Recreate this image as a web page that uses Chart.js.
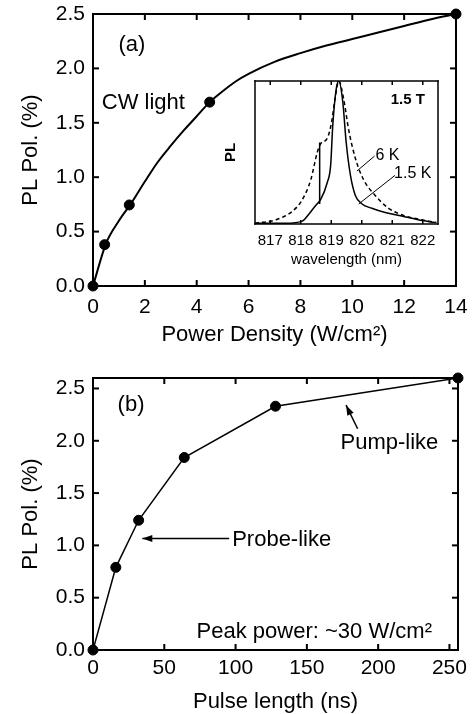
<!DOCTYPE html>
<html>
<head>
<meta charset="utf-8">
<script src="https://cdn.jsdelivr.net/npm/chart.js@4.4.1/dist/chart.umd.min.js"></script>
<style>
  html, body { margin: 0; padding: 0; background: #fff; }
  #wrap { position: relative; width: 473px; height: 714px; }
  canvas { position: absolute; }
</style>
</head>
<body>
<div id="wrap">
  <canvas id="cwChart" width="473" height="357" style="left:0;top:0"></canvas>
  <canvas id="pulseChart" width="473" height="357" style="left:0;top:357px"></canvas>
  <canvas id="specChart" width="235" height="200" style="left:215px;top:72px"></canvas>
</div>
<script>
// (a) CW light: measured points and the fitted curve
const cwPower = [0, 0.45, 1.4, 4.5, 14];
const cwPol = [0, 0.38, 0.745, 1.69, 2.5];
const cwFitPower = [0, 0.5, 1, 1.5, 2, 2.5, 3, 3.5, 4, 4.5, 5, 5.5, 6, 7, 8, 9, 10, 11, 12, 13, 14];
const cwFitPol = [0, 0.39, 0.60, 0.77, 0.96, 1.14, 1.29, 1.43, 1.56, 1.69, 1.79, 1.88, 1.95, 2.06, 2.14, 2.21, 2.27, 2.33, 2.39, 2.45, 2.5];

// (b) pulsed excitation
const pulseLength = [0, 16, 32, 64, 128, 256];
const pulsePol = [0, 0.79, 1.24, 1.84, 2.33, 2.6];

// inset: PL spectra at 1.5 T
const wl6K = [816.5, 817.19, 817.73, 818.05, 818.33, 818.54, 818.65, 818.87, 819.01, 819.12, 819.25, 819.41, 819.57, 819.79, 820.06, 820.44, 820.88, 821.42, 821.96, 822.45];
const pl6K = [0.005, 0.03, 0.09, 0.17, 0.31, 0.50, 0.56, 0.60, 0.71, 0.87, 1.0, 0.87, 0.66, 0.46, 0.31, 0.20, 0.11, 0.056, 0.03, 0.01];
const wl15K = [816.5, 817.5, 818.05, 818.27, 818.49, 818.65, 818.87, 818.98, 819.05, 819.16, 819.25, 819.38, 819.49, 819.63, 819.79, 820.01, 820.33, 820.77, 821.31, 821.85, 822.4];
const pl15K = [0.005, 0.005, 0.02, 0.07, 0.13, 0.17, 0.29, 0.41, 0.69, 0.94, 1.0, 0.85, 0.57, 0.34, 0.20, 0.14, 0.11, 0.08, 0.056, 0.03, 0.01];
const stepWl = [818.62, 818.62];
const stepPl = [0.14, 0.57];
const wlTicks = [817, 818, 819, 820, 821, 822];

Chart.defaults.font.family = "'Liberation Sans', Arial, Helvetica, sans-serif";
Chart.defaults.color = '#000';

const FONT = "'Liberation Sans', Arial, sans-serif";
const pts = (xs, ys) => xs.map((x, i) => ({ x: x, y: ys[i] }));

// box around the plot with inward tick marks, plus text and arrows in data coordinates
function decor(cfg) {
  return {
    id: 'decor',
    afterDraw(chart) {
      const { ctx, scales: { x, y } } = chart;
      const left = x.left, right = x.right, top = y.top, bottom = y.bottom;
      const w = cfg.frame, h = w / 2, len = cfg.len;
      ctx.save();
      ctx.fillStyle = '#000';
      ctx.strokeStyle = '#000';
      // frame drawn as filled strips
      ctx.fillRect(left - h, top - h, right - left + w, w);
      ctx.fillRect(left - h, bottom - h, right - left + w, w);
      ctx.fillRect(left - h, top - h, w, bottom - top + w);
      ctx.fillRect(right - h, top - h, w, bottom - top + w);
      x.ticks.forEach(t => {
        const px = x.getPixelForValue(t.value);
        ctx.fillRect(px - h, bottom - len, w, len);
        ctx.fillRect(px - h, top, w, len);
      });
      if (cfg.sides) {
        y.ticks.forEach(t => {
          const py = y.getPixelForValue(t.value);
          ctx.fillRect(left, py - h, len, w);
          ctx.fillRect(right - len, py - h, len, w);
        });
      }

      (cfg.lines || []).forEach(l => {
        const x1 = x.getPixelForValue(l.from[0]), y1 = y.getPixelForValue(l.from[1]);
        const x2 = x.getPixelForValue(l.to[0]), y2 = y.getPixelForValue(l.to[1]);
        ctx.lineWidth = l.width || 1;
        ctx.beginPath();
        ctx.moveTo(x1, y1);
        ctx.lineTo(x2, y2);
        ctx.stroke();
        if (l.head) {
          const ang = Math.atan2(y2 - y1, x2 - x1);
          const hl = 10, hw = 3.5;
          ctx.beginPath();
          ctx.moveTo(x2, y2);
          ctx.lineTo(x2 - hl * Math.cos(ang) + hw * Math.sin(ang), y2 - hl * Math.sin(ang) - hw * Math.cos(ang));
          ctx.lineTo(x2 - hl * Math.cos(ang) - hw * Math.sin(ang), y2 - hl * Math.sin(ang) + hw * Math.cos(ang));
          ctx.closePath();
          ctx.fill();
        }
      });
      (cfg.texts || []).forEach(t => {
        ctx.font = t.font;
        ctx.textAlign = t.align || 'left';
        ctx.textBaseline = 'middle';
        ctx.fillText(t.text, x.getPixelForValue(t.x), y.getPixelForValue(t.y));
      });
      ctx.restore();
    }
  };
}

function fixBox(w, h) {
  return function (s) {
    if (w !== null) s.width = w;
    if (h !== null) s.height = h;
    s.paddingLeft = 0; s.paddingRight = 0; s.paddingTop = 0; s.paddingBottom = 0;
  };
}

function mainOptions(cfg) {
  return {
    responsive: false,
    animation: false,
    devicePixelRatio: 1,
    layout: { padding: { top: cfg.padTop, right: cfg.padRight, left: 0, bottom: 0 } },
    plugins: { legend: { display: false }, tooltip: { enabled: false } },
    scales: {
      x: {
        type: 'linear', min: cfg.xMin, max: cfg.xMax,
        grid: { display: false, drawTicks: false },
        border: { display: false },
        ticks: { stepSize: cfg.xStep, includeBounds: false, autoSkip: false, padding: cfg.xTickPad, font: { size: 21 }, maxRotation: 0 },
        title: { display: true, text: cfg.xTitle, font: { size: 22, lineHeight: 1 }, padding: { top: 0, bottom: cfg.xTitlePad } },
        afterFit: fixBox(null, cfg.xHeight)
      },
      y: {
        type: 'linear', min: 0, max: cfg.yMax,
        grid: { display: false, drawTicks: false },
        border: { display: false },
        ticks: { stepSize: 0.5, includeBounds: false, padding: 8, font: { size: 21 }, callback: v => v.toFixed(1) },
        title: { display: true, text: 'PL Pol. (%)', font: { size: 22, lineHeight: 1 }, padding: { top: 20, bottom: 0 } },
        afterFit: fixBox(93, null)
      }
    }
  };
}

new Chart(document.getElementById('cwChart'), {
  type: 'scatter',
  data: {
    datasets: [
      {
        data: pts(cwFitPower, cwFitPol), showLine: true, pointRadius: 0,
        borderColor: '#000', borderWidth: 2, cubicInterpolationMode: 'monotone'
      },
      {
        data: pts(cwPower, cwPol), showLine: false, pointRadius: 5,
        backgroundColor: '#000', borderColor: '#000', clip: false
      }
    ]
  },
  options: mainOptions({
    padTop: 14, padRight: 17, xMin: 0, xMax: 14, xStep: 2, yMax: 2.5,
    xTickPad: 9, xTitle: 'Power Density (W/cm²)', xTitlePad: 11, xHeight: 71
  }),
  plugins: [decor({
    frame: 2, len: 6, sides: true,
    texts: [
      { text: '(a)', x: 1.5, y: 2.215, align: 'center', font: '22px ' + FONT },
      { text: 'CW light', x: 0.34, y: 1.68, align: 'left', font: '22px ' + FONT }
    ]
  })]
});

new Chart(document.getElementById('pulseChart'), {
  type: 'scatter',
  data: {
    datasets: [
      {
        data: pts(pulseLength, pulsePol), showLine: true, pointRadius: 0,
        borderColor: '#000', borderWidth: 1.5, tension: 0
      },
      {
        data: pts(pulseLength, pulsePol), showLine: false, pointRadius: 5,
        backgroundColor: '#000', borderColor: '#000', clip: false
      }
    ]
  },
  options: mainOptions({
    padTop: 21, padRight: 15, xMin: 0, xMax: 256, xStep: 50, yMax: 2.6,
    xTickPad: 6, xTitle: 'Pulse length (ns)', xTitlePad: 1, xHeight: 64
  }),
  plugins: [decor({
    frame: 2, len: 6, sides: true,
    texts: [
      { text: '(b)', x: 26.7, y: 2.34, align: 'center', font: '22px ' + FONT },
      { text: 'Pump-like', x: 207.9, y: 1.975, align: 'center', font: '22px ' + FONT },
      { text: 'Probe-like', x: 97.6, y: 1.05, align: 'left', font: '22px ' + FONT },
      { text: 'Peak power: ~30 W/cm²', x: 155.2, y: 0.175, align: 'center', font: '22px ' + FONT }
    ],
    lines: [
      { from: [185.6, 2.115], to: [177.5, 2.34], head: true, width: 1.5 },
      { from: [95.5, 1.066], to: [34.6, 1.066], head: true, width: 1.5 }
    ]
  })]
});

new Chart(document.getElementById('specChart'), {
  type: 'scatter',
  data: {
    datasets: [
      {
        data: pts(wl6K, pl6K), showLine: true, pointRadius: 0,
        borderColor: '#000', borderWidth: 1.5, borderDash: [4, 3], cubicInterpolationMode: 'monotone'
      },
      {
        data: pts(wl15K, pl15K), showLine: true, pointRadius: 0,
        borderColor: '#000', borderWidth: 1.5, cubicInterpolationMode: 'monotone'
      },
      {
        data: pts(stepWl, stepPl), showLine: true, pointRadius: 0,
        borderColor: '#000', borderWidth: 1.5
      }
    ]
  },
  options: {
    responsive: false,
    animation: false,
    devicePixelRatio: 1,
    layout: { padding: { top: 9, right: 12, left: 0, bottom: 0 } },
    plugins: { legend: { display: false }, tooltip: { enabled: false } },
    scales: {
      x: {
        type: 'linear', min: 816.5, max: 822.5,
        afterBuildTicks: s => { s.ticks = wlTicks.map(v => ({ value: v })); },
        grid: { display: false, drawTicks: false },
        border: { display: false },
        ticks: { autoSkip: false, padding: 8, font: { size: 15 }, maxRotation: 0, callback: v => String(v) },
        title: { display: true, text: 'wavelength (nm)', font: { size: 15, lineHeight: 1 }, padding: { top: 0, bottom: 5 } },
        afterFit: fixBox(null, 48)
      },
      y: {
        type: 'linear', min: 0, max: 1.0,
        grid: { display: false, drawTicks: false },
        border: { display: false },
        ticks: { display: false },
        title: { display: true, text: 'PL', font: { size: 15, weight: 'bold', lineHeight: 1 }, padding: { top: 8, bottom: 0 } },
        afterFit: fixBox(40, null)
      }
    }
  },
  plugins: [decor({
    frame: 1.5, len: 4, sides: false,
    texts: [
      { text: '1.5 T', x: 822.07, y: 0.87, align: 'right', font: 'bold 15px ' + FONT },
      { text: '6 K', x: 820.45, y: 0.475, align: 'left', font: '16px ' + FONT },
      { text: '1.5 K', x: 821.06, y: 0.35, align: 'left', font: '16px ' + FONT }
    ],
    lines: [
      { from: [820.42, 0.475], to: [819.84, 0.37], width: 1 },
      { from: [821.09, 0.34], to: [819.9, 0.14], width: 1 }
    ]
  })]
});
</script>
</body>
</html>
